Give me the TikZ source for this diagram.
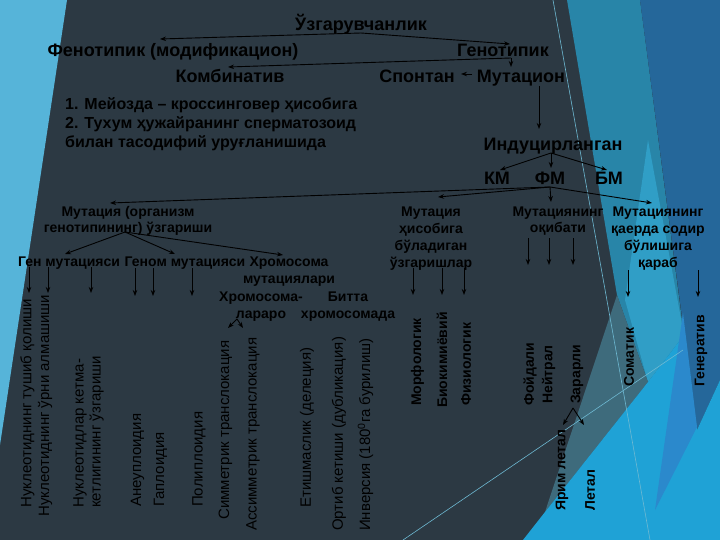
\documentclass[tikz,border=0pt]{standalone}
\usepackage{fontspec}
\setmainfont{Liberation Sans}
\usetikzlibrary{arrows.meta}
\definecolor{bgdark}{RGB}{44,57,67}
\definecolor{lblue}{RGB}{86,180,217}
\definecolor{teal1}{RGB}{40,133,168}
\definecolor{teal2}{RGB}{48,158,198}
\definecolor{dblue}{RGB}{37,103,154}
\definecolor{bblue}{RGB}{31,162,214}
\definecolor{greyteal}{RGB}{62,107,124}
\definecolor{mblue}{RGB}{43,137,204}
\definecolor{thinline}{RGB}{110,185,210}
\begin{document}
\begin{tikzpicture}[x=1pt,y=-1pt,
  big/.style={font=\fontsize{18}{21}\selectfont\bfseries, inner sep=0pt, anchor=base},
  mid/.style={font=\fontsize{14}{17}\selectfont\bfseries, inner sep=0pt, anchor=base, align=center},
  listtxt/.style={font=\fontsize{16}{19}\selectfont\bfseries, inner sep=0pt, anchor=base west, align=left},
  vreg/.style={font=\fontsize{15}{17}\selectfont, inner sep=0pt, anchor=west, rotate=90, align=left},
  vbold/.style={font=\fontsize{14}{17}\selectfont\bfseries, inner sep=0pt, anchor=west, rotate=90},
  arr/.style={draw=black, line width=0.9pt, -{Stealth[length=6pt,width=4.5pt]}}]
\useasboundingbox (0,0) rectangle (720,540);
% background
\fill[bgdark] (0,0) rectangle (720,540);
\fill[lblue] (0,0) -- (67,0) -- (0,445) -- cycle;
\fill[teal1] (567,0) -- (640,0) -- (684,335) -- (648,382) -- (617,295) -- cycle;
\fill[teal2] (648,140) -- (684,335) -- (648,382) -- (625,300) -- cycle;
\fill[dblue] (640,0) -- (720,0) -- (720,380) -- (697,430) -- cycle;
\fill[greyteal] (617,295) -- (648,382) -- (545,512) -- cycle;
\fill[bblue] (523,540) -- (545,512) -- (648,382) -- (684,335) -- (697,430) -- (720,380) -- (720,540) -- cycle;
\fill[mblue] (683,313) -- (697,427) -- (655,510) -- cycle;
\draw[thinline, line width=0.6pt] (553,0) -- (650,540);
\draw[thinline, line width=0.6pt] (403,540) -- (683,350);
% top level
\node[big] (uzg) at (361,31) {Ўзгарувчанлик};
\node[big] (fen) at (173,57) {Фенотипик (модификацион)};
\node[big] (gen) at (503,57) {Генотипик};
\node[big] (komb) at (230,83) {Комбинатив};
\node[big] (spon) at (417,83) {Спонтан};
\node[big] (mut) at (521,83) {Мутацион};
\node[listtxt] (list) at (65,148) {1. Мейозда – кроссинговер ҳисобига\\2. Тухум ҳужайранинг сперматозоид\\билан тасодифий уруғланишида};
\node[big] (ind) at (553,151) {Индуцирланган};
\node[big] (km) at (497,185) {КМ};
\node[big] (fm) at (550,185) {ФМ};
\node[big] (bm) at (609,185) {БМ};
% second level (base = last line)
\node[mid] (morg) at (128,233) {Мутация (организм\\генотипининг) ўзгариши};
\node[mid] (mhis) at (431,267) {Мутация\\ҳисобига\\бўладиган\\ўзгаришлар};
\node[mid] (moq) at (558,233) {Мутациянинг\\оқибати};
\node[mid] (mqay) at (658,267) {Мутациянинг\\қаерда содир\\бўлишига\\қараб};
\node[mid] (genm) at (69,266) {Ген мутацияси};
\node[mid] (genom) at (185,266) {Геном мутацияси};
\node[mid] (xrom) at (289,283) {Хромосома\\мутациялари};
\node[mid] (xrlar) at (261,318) {Хромосома-\\лараро};
\node[mid] (bitta) at (348,318) {Битта\\хромосомада};
% vertical texts
\node[vreg] (ntq) at (27.5,508) {Нуклеотиднинг тушиб қолиши};
\node[vreg] (nua) at (45,517) {Нуклеотиднинг ўрни алмашиши};
\node[vreg] (nkk) at (88.5,508) {Нуклеотидлар кетма-\\кетлигининг ўзгариши};
\node[vreg] (aneu) at (137.5,507) {Анеуплоидия};
\node[vreg] (gapl) at (160.5,507) {Гаплоидия};
\node[vreg] (poli) at (199,507) {Полиплоидия};
\node[vreg] (sim) at (225.5,520) {Симметрик транслокация};
\node[vreg] (asim) at (253,531) {Ассимметрик транслокация};
\node[vreg] (etish) at (307,508) {Етишмаслик (делеция)};
\node[vreg] (ortib) at (339,531) {Ортиб кетиши (дубликация)};
\node[vreg] (inv) at (365.5,531) {Инверсия (180\textsuperscript{0}га бурилиш)};
\node[vbold] (morf) at (417.5,406) {Морфологик};
\node[vbold] (bio) at (442,408) {Биокимиёвий};
\node[vbold] (fiz) at (466,406) {Физиологик};
\node[vbold] (foyd) at (530,406) {Фойдали};
\node[vbold] (neyt) at (548.5,404) {Нейтрал};
\node[vbold] (zar) at (577,404) {Зарарли};
\node[vbold] (yarim) at (562,511) {Ярим летал};
\node[vbold] (letal) at (590,511) {Летал};
\node[vbold] (som) at (629,387) {Соматик};
\node[vbold] (gener) at (701,387) {Генератив};
% branch points
\coordinate (o-uzg) at (361,33);
\coordinate (o-gen) at (511,58);
\coordinate (o-ind) at (551,153);
\coordinate (o-fm) at (550,187);
\coordinate (o-morg) at (125,232);
\coordinate (o-xrlar) at (237,319);
\coordinate (o-zar) at (573,408);
% arrows
\draw[arr] (o-uzg) -- (160,39);
\draw[arr] (o-uzg) -- (510,44);
\draw[arr] (o-gen) -- (228,67);
\draw[arr] (o-gen) -- (511,67);
\draw[arr] (472,74) -- (461,74);
\draw[arr] (539,86) -- (539,129);
\draw[arr] (o-ind) -- (500,170);
\draw[arr] (o-ind) -- (551,168);
\draw[arr] (o-ind) -- (607,170);
\draw[arr] (o-fm) -- (110,203);
\draw[arr] (o-fm) -- (438,197);
\draw[arr] (o-fm) -- (551,202);
\draw[arr] (o-fm) -- (652,203);
\draw[arr] (o-morg) -- (65,254);
\draw[arr] (o-morg) -- (175,254);
\draw[arr] (o-morg) -- (283,255);
\foreach \x in {29,48,91} \draw[arr] (\x,267) -- (\x,293);
\foreach \x in {135,153,192} \draw[arr] (\x,268) -- (\x,296);
\draw[arr] (o-xrlar) -- (228,328);
\draw[arr] (o-xrlar) -- (243,328);
\foreach \x in {413,442,464} \draw[arr] (\x,268) -- (\x,295);
\foreach \x in {528,549,573} \draw[arr] (\x,238) -- (\x,265);
\foreach \x in {628,698} \draw[arr] (\x,270) -- (\x,297);
\draw[arr] (o-zar) -- (563,425);
\draw[arr] (o-zar) -- (584,425);
\end{tikzpicture}
\end{document}
